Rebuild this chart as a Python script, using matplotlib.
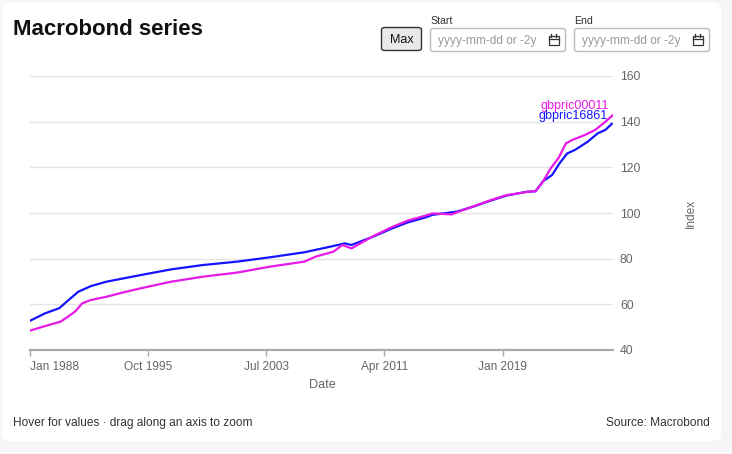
import matplotlib
matplotlib.use('Agg')
import matplotlib.pyplot as plt
from matplotlib.patches import FancyBboxPatch, Rectangle
from matplotlib.lines import Line2D
import pandas as pd

plt.rcParams['font.family'] = ['Liberation Sans', 'DejaVu Sans']

# values
dates_16861 = ['1988-01', '1989-01', '1989-12', '1990-06', '1991-03', '1992-01', '1993-01',
               '1994-03', '1995-04', '1997-04', '1999-05', '2001-08', '2003-10', '2006-01',
               '2007-09', '2008-09', '2009-02', '2010-07', '2011-09', '2012-10', '2013-12',
               '2014-06', '2016-01', '2017-02', '2018-03', '2019-04', '2020-08', '2021-03',
               '2021-07', '2021-09', '2022-04', '2022-10', '2023-04', '2023-10', '2024-08',
               '2025-04', '2025-10', '2026-03']
gbpric16861 = [52.8, 56.1, 58.3, 61.2, 65.5, 68.0, 69.9,
               71.4, 72.8, 75.3, 77.2, 78.7, 80.6, 82.8,
               85.2, 86.7, 86.0, 89.6, 93.0, 95.8, 98.0,
               99.2, 100.6, 102.8, 105.3, 107.6, 109.3, 109.5,
               112.5, 114.0, 116.6, 121.8, 126.1, 127.6, 131.2,
               134.9, 136.4, 139.0]

dates_00011 = ['1988-01', '1989-01', '1990-01', '1990-07', '1991-01', '1991-06', '1992-01',
               '1993-01', '1994-03', '1995-04', '1997-04', '1999-05', '2001-08', '2003-10',
               '2006-01', '2006-10', '2007-12', '2008-07', '2009-02', '2010-07', '2011-09',
               '2012-10', '2013-12', '2014-06', '2015-09', '2016-01', '2017-02', '2018-03',
               '2019-04', '2020-08', '2021-03', '2021-08', '2022-03', '2022-09', '2023-03',
               '2023-08', '2024-06', '2025-02', '2025-10', '2026-04']
gbpric00011 = [48.5, 50.5, 52.4, 54.6, 57.1, 60.4, 61.9,
               63.3, 65.3, 67.0, 69.9, 72.1, 73.9, 76.5,
               78.7, 80.9, 83.1, 86.0, 84.5, 89.8, 93.6,
               96.6, 98.8, 99.8, 99.4, 100.3, 102.9, 105.5,
               107.8, 109.2, 109.6, 113.0, 119.6, 124.0, 130.5,
               132.0, 134.2, 136.4, 140.0, 142.9]

tick_dates = ['1988-01-01', '1995-10-01', '2003-07-01', '2011-04-01', '2019-01-01']
tick_labels = ['Jan 1988', 'Oct 1995', 'Jul 2003', 'Apr 2011', 'Jan 2019']
y_ticks = [40, 60, 80, 100, 120, 140, 160]

W, H = 732, 454
fig = plt.figure(figsize=(W / 100, H / 100), dpi=100)
fig.patch.set_facecolor('#f6f6f6')


def fx(x):
    return x / W


def fy(y):
    return 1 - y / H


# white card
fig.patches.append(FancyBboxPatch((fx(2), fy(441)), fx(719), 439 / H,
                                  boxstyle='round,pad=0,rounding_size=0.014',
                                  transform=fig.transFigure, facecolor='white',
                                  edgecolor='none', zorder=-10))

fig.text(fx(13), fy(27), 'Macrobond series', fontsize=16, fontweight='bold',
         va='center_baseline', ha='left', color='#111111')

# controls
fig.patches.append(FancyBboxPatch((fx(381.5), fy(50.5)), fx(40), 23 / H,
                                  boxstyle='round,pad=0,rounding_size=0.005',
                                  transform=fig.transFigure, facecolor='#e8e8e8',
                                  edgecolor='#333333', linewidth=1))
fig.text(fx(401.5), fy(40), 'Max', fontsize=9, ha='center', va='center', color='#111111')
for x0, x1, lab in [(430.5, 565.5, 'Start'), (574.5, 709.5, 'End')]:
    fig.patches.append(FancyBboxPatch((fx(x0), fy(51.5)), fx(x1 - x0), 23 / H,
                                      boxstyle='round,pad=0,rounding_size=0.005',
                                      transform=fig.transFigure, facecolor='white',
                                      edgecolor='#bbbbbb', linewidth=1))
    fig.text(fx(x0), fy(20.5), lab, fontsize=7.6, ha='left', va='center', color='#333333')
    fig.text(fx(x0 + 7), fy(41), 'yyyy-mm-dd or -2y', fontsize=8.6, ha='left',
             va='center', color='#999999')
    cx = x1 - 17
    fig.patches.append(Rectangle((fx(cx), fy(45)), fx(10), 9 / H, transform=fig.transFigure,
                                 facecolor='none', edgecolor='#333333', linewidth=0.9))
    fig.lines.append(Line2D([fx(cx), fx(cx + 10)], [fy(39), fy(39)],
                            transform=fig.transFigure, color='#333333', linewidth=0.9))
    for tx in (cx + 2.5, cx + 7.5):
        fig.lines.append(Line2D([fx(tx), fx(tx)], [fy(34), fy(37)],
                                transform=fig.transFigure, color='#333333', linewidth=0.9))

# chart
ax = fig.add_axes([fx(30), fy(350), fx(583), 274 / H])
ax.set_facecolor('none')
ax.set_zorder(1)

d1 = pd.to_datetime(dates_16861)
d2 = pd.to_datetime(dates_00011)
ax.plot(d1, gbpric16861, color='#1414ff', linewidth=1.6, zorder=3)
ax.plot(d2, gbpric00011, color='#e619e6', linewidth=1.6, zorder=3)

# the two end labels overlap slightly in the original too
ax.annotate('gbpric00011', xy=(d2[-1], gbpric00011[-1]), xytext=(-3, 6.5),
            textcoords='offset points', ha='right', va='center', fontsize=9,
            color='#e619e6', zorder=4)
ax.annotate('gbpric16861', xy=(d1[-1], gbpric16861[-1]), xytext=(-3, 5.6),
            textcoords='offset points', ha='right', va='center', fontsize=9,
            color='#1414ff', zorder=4)

ax.set_xlim(pd.Timestamp('1988-01-01'), d2[-1])
ax.set_ylim(40, 160)
ax.set_yticks(y_ticks)
ax.yaxis.tick_right()
ax.tick_params(axis='y', length=0, pad=5, labelsize=8.8, labelcolor='#666666')
ax.grid(axis='y', color='#e4e4e4', linewidth=1)
ax.set_axisbelow(True)

ax.set_xticks(pd.to_datetime(tick_dates))
ax.set_xticklabels(tick_labels)
ax.tick_params(axis='x', length=4, width=1, color='#aaaaaa', pad=4,
               labelsize=8.6, labelcolor='#666666')
ax.get_xticklabels()[0].set_horizontalalignment('left')

for s in ['top', 'left', 'right']:
    ax.spines[s].set_visible(False)
ax.spines['bottom'].set_color('#aaaaaa')
ax.spines['bottom'].set_linewidth(1.6)

fig.text(fx(322), fy(385), 'Date', fontsize=9.2, ha='center', va='center', color='#666666')
fig.text(fx(691), fy(213), 'Index', fontsize=8.6, ha='center', va='center', color='#666666',
         rotation=90)

fig.text(fx(13), fy(423), 'Hover for values \u00b7 drag along an axis to zoom', fontsize=8.6,
         ha='left', va='center', color='#333333')
fig.text(fx(710), fy(423), 'Source: Macrobond', fontsize=8.6, ha='right', va='center',
         color='#333333')

fig.savefig('out.png', dpi=100, facecolor=fig.get_facecolor())
